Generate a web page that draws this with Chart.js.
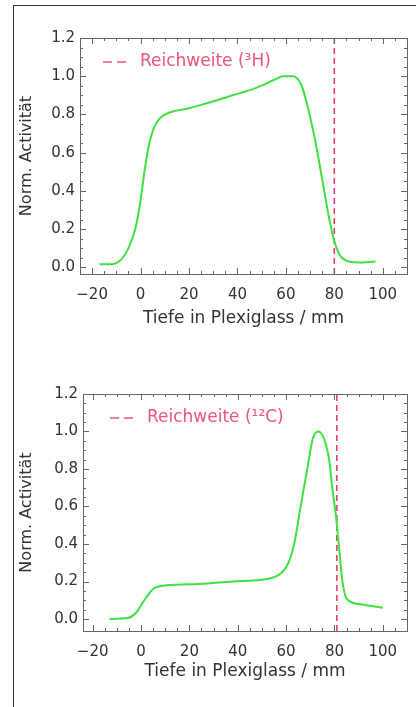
<!DOCTYPE html>
<html>
<head>
<meta charset="utf-8">
<script src="https://cdn.jsdelivr.net/npm/chart.js@4"></script>
<style>
  body { margin: 0; background: #fff; width: 416px; height: 707px; overflow: hidden; position: relative; }
  .frame { position: absolute; left: 13px; top: 5px; width: 600px; height: 800px; border: 1px solid #333; }
  .box { position: absolute; left: 0; width: 416px; }
  #top { top: 0; height: 340px; }
  #bottom { top: 340px; height: 367px; }
</style>
</head>
<body>
<div class="frame"></div>
<div class="box" id="top"><canvas id="chartH"></canvas></div>
<div class="box" id="bottom"><canvas id="chartC"></canvas></div>
<script>
// depth (mm) vs normalised activity
const h3Depth = [-17, -12, -8, -5, -2, 0, 1.6, 3.3, 5.5, 8, 12, 19, 25, 38, 48, 55, 59, 63, 66.5, 69, 72, 75, 77.5, 79.5, 82, 86, 90, 97];
const h3Activity = [0.016, 0.016, 0.04, 0.1, 0.21, 0.35, 0.5, 0.63, 0.73, 0.78, 0.81, 0.83, 0.85, 0.9, 0.94, 0.98, 1.0, 1.0, 0.95, 0.84, 0.67, 0.46, 0.28, 0.16, 0.07, 0.03, 0.025, 0.03];

const c12Depth = [-13, -5.5, -1.6, 0.8, 2.5, 5, 10.7, 24, 38, 52, 58, 61, 63.5, 66, 68.5, 71, 73.3, 75.7, 77.8, 79, 80.6, 82, 83.2, 85, 90, 100];
const c12Activity = [0.0, 0.005, 0.04, 0.09, 0.12, 0.16, 0.18, 0.187, 0.2, 0.213, 0.245, 0.3, 0.41, 0.6, 0.78, 0.96, 1.0, 0.96, 0.85, 0.71, 0.55, 0.37, 0.21, 0.11, 0.08, 0.06];

const rangeH3 = 80;
const rangeC12 = 81;

const xTickValues = [-20, 0, 20, 40, 60, 80, 100];
const yTickValues = [0, 0.2, 0.4, 0.6, 0.8, 1.0, 1.2];
const legendLabels = ["Reichweite (\u00B3H)", "Reichweite (\u00B9\u00B2C)"];
const xTitle = "Tiefe in Plexiglass / mm";
const yTitle = "Norm. Activit\u00E4t";

const FONT = "'DejaVu Sans', sans-serif";
const TEXT = "#333";
const GREEN = "#3fe23f";
const RED = "#e5315a";

// box with inward ticks on all four sides, IDL style
const frameTicks = {
    id: "frameTicks",
    afterDraw(chart) {
        const { ctx, chartArea: a, scales } = chart;
        const x = scales.x, y = scales.y;
        ctx.save();
        ctx.strokeStyle = "#666";
        ctx.lineWidth = 1;
        ctx.strokeRect(a.left + 0.5, a.top + 0.5, a.right - a.left, a.bottom - a.top);
        ctx.beginPath();
        for (let v = -40; v <= 140; v += 5) {
            if (v < x.min || v > x.max) continue;
            const px = Math.round(x.getPixelForValue(v)) + 0.5;
            const len = v % 20 === 0 ? 6 : 3;
            ctx.moveTo(px, a.bottom); ctx.lineTo(px, a.bottom - len);
            ctx.moveTo(px, a.top); ctx.lineTo(px, a.top + len);
        }
        for (let i = 0; i <= 24; i++) {
            const v = i * 0.05;
            if (v < y.min || v > y.max) continue;
            const py = Math.round(y.getPixelForValue(v)) + 0.5;
            const len = i % 4 === 0 ? 6 : 3;
            ctx.moveTo(a.left, py); ctx.lineTo(a.left + len, py);
            ctx.moveTo(a.right, py); ctx.lineTo(a.right - len, py);
        }
        ctx.stroke();

        // legend: dashes + text
        const label = chart.options.plugins.frameTicks.label;
        const dx = chart.options.plugins.frameTicks.legendX;
        const ly = a.top + 24;
        ctx.strokeStyle = "#ee5577";
        ctx.lineWidth = 1.5;
        ctx.setLineDash([9, 5]);
        ctx.beginPath();
        ctx.moveTo(a.left + dx, ly); ctx.lineTo(a.left + dx + 27, ly);
        ctx.stroke();
        ctx.setLineDash([]);
        ctx.fillStyle = "#ee5577";
        ctx.font = "17px " + FONT;
        ctx.textBaseline = "middle";
        ctx.fillText(label, a.left + dx + 37, ly);
        ctx.restore();
    }
};

function makeChart(id, depth, activity, range, label, opts) {
    const yMin = opts.yMin, yMax = 1.2;
    return new Chart(document.getElementById(id), {
        type: "line",
        data: {
            datasets: [{
                data: depth.map((d, i) => ({ x: d, y: activity[i] })),
                borderColor: GREEN,
                borderWidth: 2,
                pointRadius: 0,
                cubicInterpolationMode: "monotone"
            }, {
                data: [{ x: range, y: yMin }, { x: range, y: yMax }],
                borderColor: RED,
                borderWidth: 1.5,
                borderDash: [6, 4],
                pointRadius: 0
            }]
        },
        options: {
            responsive: true,
            maintainAspectRatio: false,
            animation: false,
            layout: { padding: { top: opts.top, right: 9, left: 0, bottom: opts.bottom } },
            plugins: {
                legend: { display: false },
                tooltip: { enabled: false },
                frameTicks: { label: label, legendX: opts.legendX }
            },
            scales: {
                x: {
                    type: "linear",
                    min: opts.xMin,
                    max: 110,
                    grid: { display: false, drawTicks: false },
                    border: { display: false },
                    afterBuildTicks: (axis) => { axis.ticks = xTickValues.map(v => ({ value: v })); },
                    afterFit: (axis) => { axis.height = opts.xHeight; },
                    ticks: {
                        color: TEXT,
                        font: { family: FONT, size: 15 },
                        padding: 12,
                        maxRotation: 0,
                        callback: (v) => String(v).replace("-", "\u2212")
                    },
                    title: {
                        display: true,
                        text: xTitle,
                        color: TEXT,
                        font: { family: FONT, size: 17 },
                        padding: { top: 0, bottom: 0 }
                    }
                },
                y: {
                    min: yMin,
                    max: yMax,
                    grid: { display: false, drawTicks: false },
                    border: { display: false },
                    afterBuildTicks: (axis) => { axis.ticks = yTickValues.map(v => ({ value: v })); },
                    afterFit: (axis) => { axis.width = opts.yWidth; },
                    ticks: {
                        color: TEXT,
                        font: { family: FONT, size: 15 },
                        padding: 5,
                        callback: (v) => v.toFixed(1)
                    },
                    title: {
                        display: true,
                        text: yTitle,
                        color: TEXT,
                        font: { family: FONT, size: 16 },
                        padding: { top: 17, bottom: 0 }
                    }
                }
            }
        },
        plugins: [frameTicks]
    });
}

makeChart("chartH", h3Depth, h3Activity, rangeH3, legendLabels[0],
    { top: 38, bottom: 11, yMin: -0.035, xMin: -25, xHeight: 55, yWidth: 80, legendX: 23 });
makeChart("chartC", c12Depth, c12Activity, rangeC12, legendLabels[1],
    { top: 54, bottom: 25, yMin: -0.064, xMin: -24, xHeight: 51, yWidth: 83, legendX: 27 });
</script>
</body>
</html>
